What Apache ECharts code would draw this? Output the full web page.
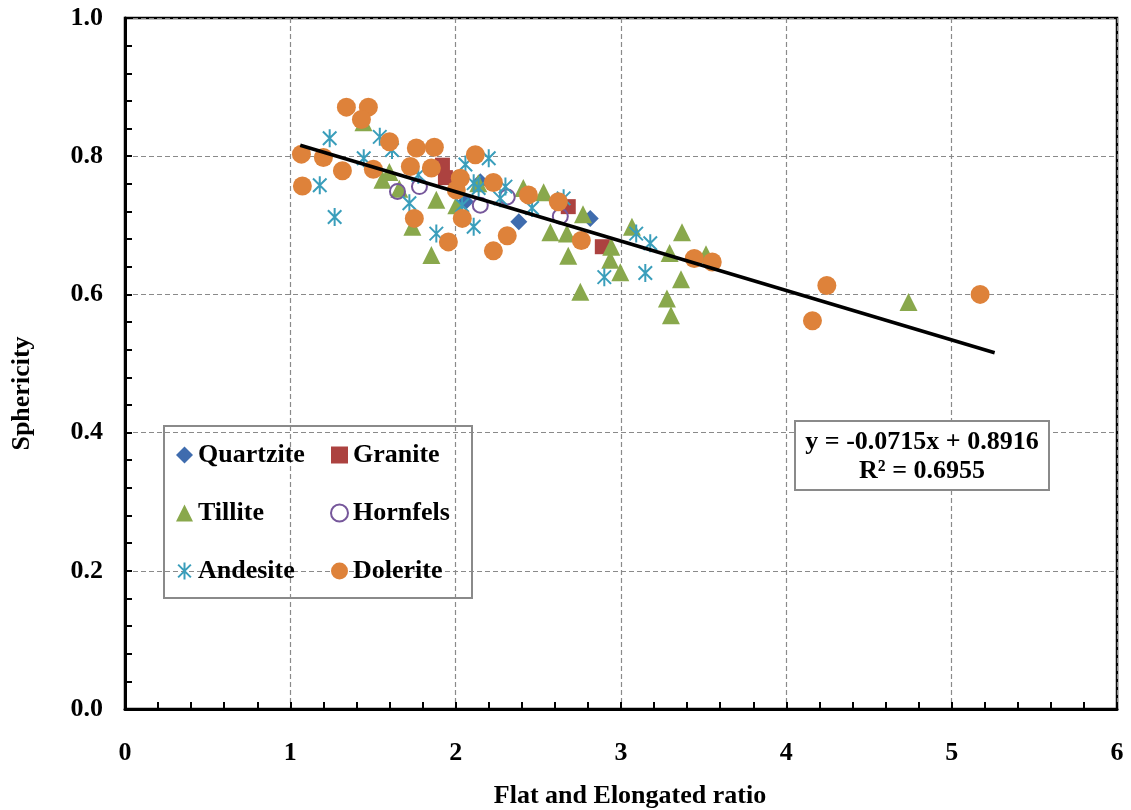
<!DOCTYPE html>
<html>
<head>
<meta charset="utf-8">
<script src="https://cdn.jsdelivr.net/npm/echarts@6/dist/echarts.min.js"></script>
<style>html,body{margin:0;padding:0;background:#fff}#c{width:1131px;height:810px}</style>
</head>
<body>
<div id="c"></div>
<script>
// ---- data ----
const seriesNames = ['Quartzite', 'Granite', 'Tillite', 'Hornfels', 'Andesite', 'Dolerite'];
const quartzite = [[2.149,0.763],[2.059,0.734],[2.382,0.705],[2.814,0.710]];
const granite = [[1.920,0.787],[1.938,0.769],[2.681,0.727],[2.887,0.669]];
const tillite = [[1.442,0.849],[1.557,0.766],[1.599,0.777],[1.659,0.753],[1.883,0.737],[1.738,0.698],
  [1.853,0.657],[2.004,0.729],[2.137,0.761],[2.409,0.754],[2.532,0.748],[2.573,0.690],[2.681,0.656],
  [2.754,0.604],[2.770,0.716],[2.673,0.688],[2.941,0.669],[2.935,0.650],[2.996,0.632],[3.066,0.698],
  [3.369,0.690],[3.294,0.660],[3.363,0.622],[3.278,0.594],[3.302,0.570],[3.514,0.658],[4.739,0.589]];
const hornfels = [[1.648,0.749],[1.781,0.756],[2.149,0.729],[2.312,0.741],[2.633,0.713]];
const andesite = [[1.178,0.758],[1.238,0.826],[1.268,0.712],[1.444,0.797],[1.541,0.828],[1.615,0.809],
  [1.720,0.732],[1.774,0.773],[1.883,0.688],[2.059,0.788],[2.200,0.797],[2.109,0.761],[2.139,0.754],
  [2.301,0.756],[2.039,0.729],[2.462,0.725],[2.109,0.698],[2.270,0.739],[2.653,0.739],[2.899,0.625],
  [3.092,0.688],[3.177,0.674],[3.147,0.631]];
const dolerite = [[1.067,0.803],[1.073,0.757],[1.200,0.798],[1.315,0.779],[1.339,0.871],[1.472,0.871],
  [1.430,0.853],[1.502,0.781],[1.600,0.821],[1.762,0.812],[1.871,0.813],[1.726,0.785],[1.853,0.783],
  [2.119,0.802],[2.028,0.768],[2.004,0.751],[2.228,0.762],[2.440,0.744],[2.621,0.734],[1.750,0.710],
  [2.040,0.710],[1.956,0.676],[2.312,0.685],[2.228,0.663],[2.760,0.678],[3.443,0.652],[3.552,0.647],
  [4.245,0.613],[4.158,0.562],[5.172,0.600]];
const trendSlope = -0.0715;
const trendIntercept = 0.8916;
const trendX = [1.06, 5.26];
const xTicks = [0, 1, 2, 3, 4, 5, 6];
const yTicks = [0.0, 0.2, 0.4, 0.6, 0.8, 1.0];
const equationText = 'y = -0.0715x + 0.8916';
const r2Text = 'R\u00B2 = 0.6955';

// ---- chart ----
const FONT = '"Liberation Serif", "Times New Roman", serif';
const colors = {
  Quartzite: '#3F6CAE', Granite: '#AC4240', Tillite: '#89A84C',
  Hornfels: '#76579B', Andesite: '#3A9EBB', Dolerite: '#DE823A'
};
const asterisk = 'path://M0,-10L0,10M-7.5,-7.5L7.5,7.5M-7.5,7.5L7.5,-7.5';
const trendData = trendX.map(x => [x, trendSlope * x + trendIntercept]);

const chart = echarts.init(document.getElementById('c'), null, {renderer: 'canvas'});
const legendText = {fontFamily: FONT, fontWeight: 'bold', fontSize: 26, color: '#000', lineHeight: 26};
chart.setOption({
  animation: false,
  backgroundColor: '#fff',
  grid: {left: 125, right: 14, top: 18, bottom: 101, show: true, borderColor: '#000', borderWidth: 2.5,
    backgroundColor: 'transparent', containLabel: false, outerBoundsMode: 'none'},
  xAxis: {
    type: 'value', min: xTicks[0], max: xTicks[xTicks.length - 1], interval: 1,
    name: 'Flat and Elongated ratio', nameLocation: 'middle', nameGap: 74,
    nameTextStyle: {fontFamily: FONT, fontWeight: 'bold', fontSize: 26, color: '#000', padding: [0, 0, 0, 18]},
    axisLine: {show: true, lineStyle: {color: '#000', width: 3}},
    axisTick: {show: true, inside: true, length: 7, lineStyle: {color: '#000', width: 2}},
    minorTick: {show: true, splitNumber: 5, length: 7, lineStyle: {color: '#000', width: 2}},
    axisLabel: {margin: 31, fontFamily: FONT, fontWeight: 'bold', fontSize: 26, color: '#000',
      formatter: v => String(v)},
    splitLine: {show: true, lineStyle: {color: '#8a8a8a', width: 1.2, type: [5, 3]}}
  },
  yAxis: {
    type: 'value', min: yTicks[0], max: yTicks[yTicks.length - 1], interval: 0.2,
    name: 'Sphericity', nameLocation: 'middle', nameGap: 90,
    nameTextStyle: {fontFamily: FONT, fontWeight: 'bold', fontSize: 26, color: '#000', padding: [0, 60, 0, 0]},
    axisLine: {show: true, lineStyle: {color: '#000', width: 3}},
    axisTick: {show: true, inside: true, length: 7, lineStyle: {color: '#000', width: 2}},
    minorTick: {show: true, splitNumber: 5, length: 7, lineStyle: {color: '#000', width: 2}},
    axisLabel: {margin: 22, fontFamily: FONT, fontWeight: 'bold', fontSize: 26, color: '#000',
      padding: [5, 0, 0, 0], formatter: v => v.toFixed(1)},
    splitLine: {show: true, lineStyle: {color: '#8a8a8a', width: 1.2, type: [5, 3]}}
  },
  legend: [
    {data: ['Quartzite', 'Tillite', 'Andesite'], orient: 'vertical', left: 176, top: 442,
     itemGap: 32, itemWidth: 17, itemHeight: 17, textStyle: legendText, padding: 0},
    {data: ['Granite', 'Hornfels', 'Dolerite'], orient: 'vertical', left: 330, top: 442,
     itemGap: 32, itemWidth: 17, itemHeight: 17, textStyle: legendText, padding: 0}
  ],
  graphic: [
    {type: 'rect', z: 0, shape: {x: 164, y: 426, width: 308, height: 172},
     style: {fill: '#fff', stroke: '#8a8a8a', lineWidth: 2}},
    {type: 'rect', z: 10, shape: {x: 795, y: 421, width: 254, height: 69},
     style: {fill: '#fff', stroke: '#8a8a8a', lineWidth: 2}},
    {type: 'text', z: 11, x: 922, y: 442,
     style: {text: equationText, fontFamily: FONT, fontWeight: 'bold', fontSize: 26, fill: '#000', align: 'center', verticalAlign: 'middle'}},
    {type: 'text', z: 11, x: 922, y: 471,
     style: {text: r2Text, fontFamily: FONT, fontWeight: 'bold', fontSize: 26, fill: '#000', align: 'center', verticalAlign: 'middle'}}
  ],
  series: [
    {name: 'Quartzite', type: 'scatter', data: quartzite, symbol: 'diamond', symbolSize: 17,
     itemStyle: {color: colors.Quartzite, opacity: 1}},
    {name: 'Granite', type: 'scatter', data: granite, symbol: 'rect', symbolSize: 15,
     itemStyle: {color: colors.Granite, opacity: 1}},
    {name: 'Tillite', type: 'scatter', data: tillite, symbol: 'triangle', symbolSize: 18,
     itemStyle: {color: colors.Tillite, opacity: 1}},
    {name: 'Hornfels', type: 'scatter', data: hornfels, symbol: 'circle', symbolSize: 15,
     itemStyle: {color: 'rgba(255,255,255,0)', borderColor: colors.Hornfels, borderWidth: 2, opacity: 1}},
    {name: 'Andesite', type: 'scatter', data: andesite, symbol: asterisk, symbolSize: 18, symbolKeepAspect: true,
     itemStyle: {color: 'rgba(255,255,255,0)', borderColor: colors.Andesite, borderWidth: 2, opacity: 1}},
    {name: 'Dolerite', type: 'scatter', data: dolerite, symbol: 'circle', symbolSize: 19,
     itemStyle: {color: colors.Dolerite, opacity: 1}},
    {name: 'Trend', type: 'line', data: trendData, symbol: 'none', z: 5,
     lineStyle: {color: '#000', width: 3.5}, silent: true}
  ]
});
</script>
</body>
</html>
